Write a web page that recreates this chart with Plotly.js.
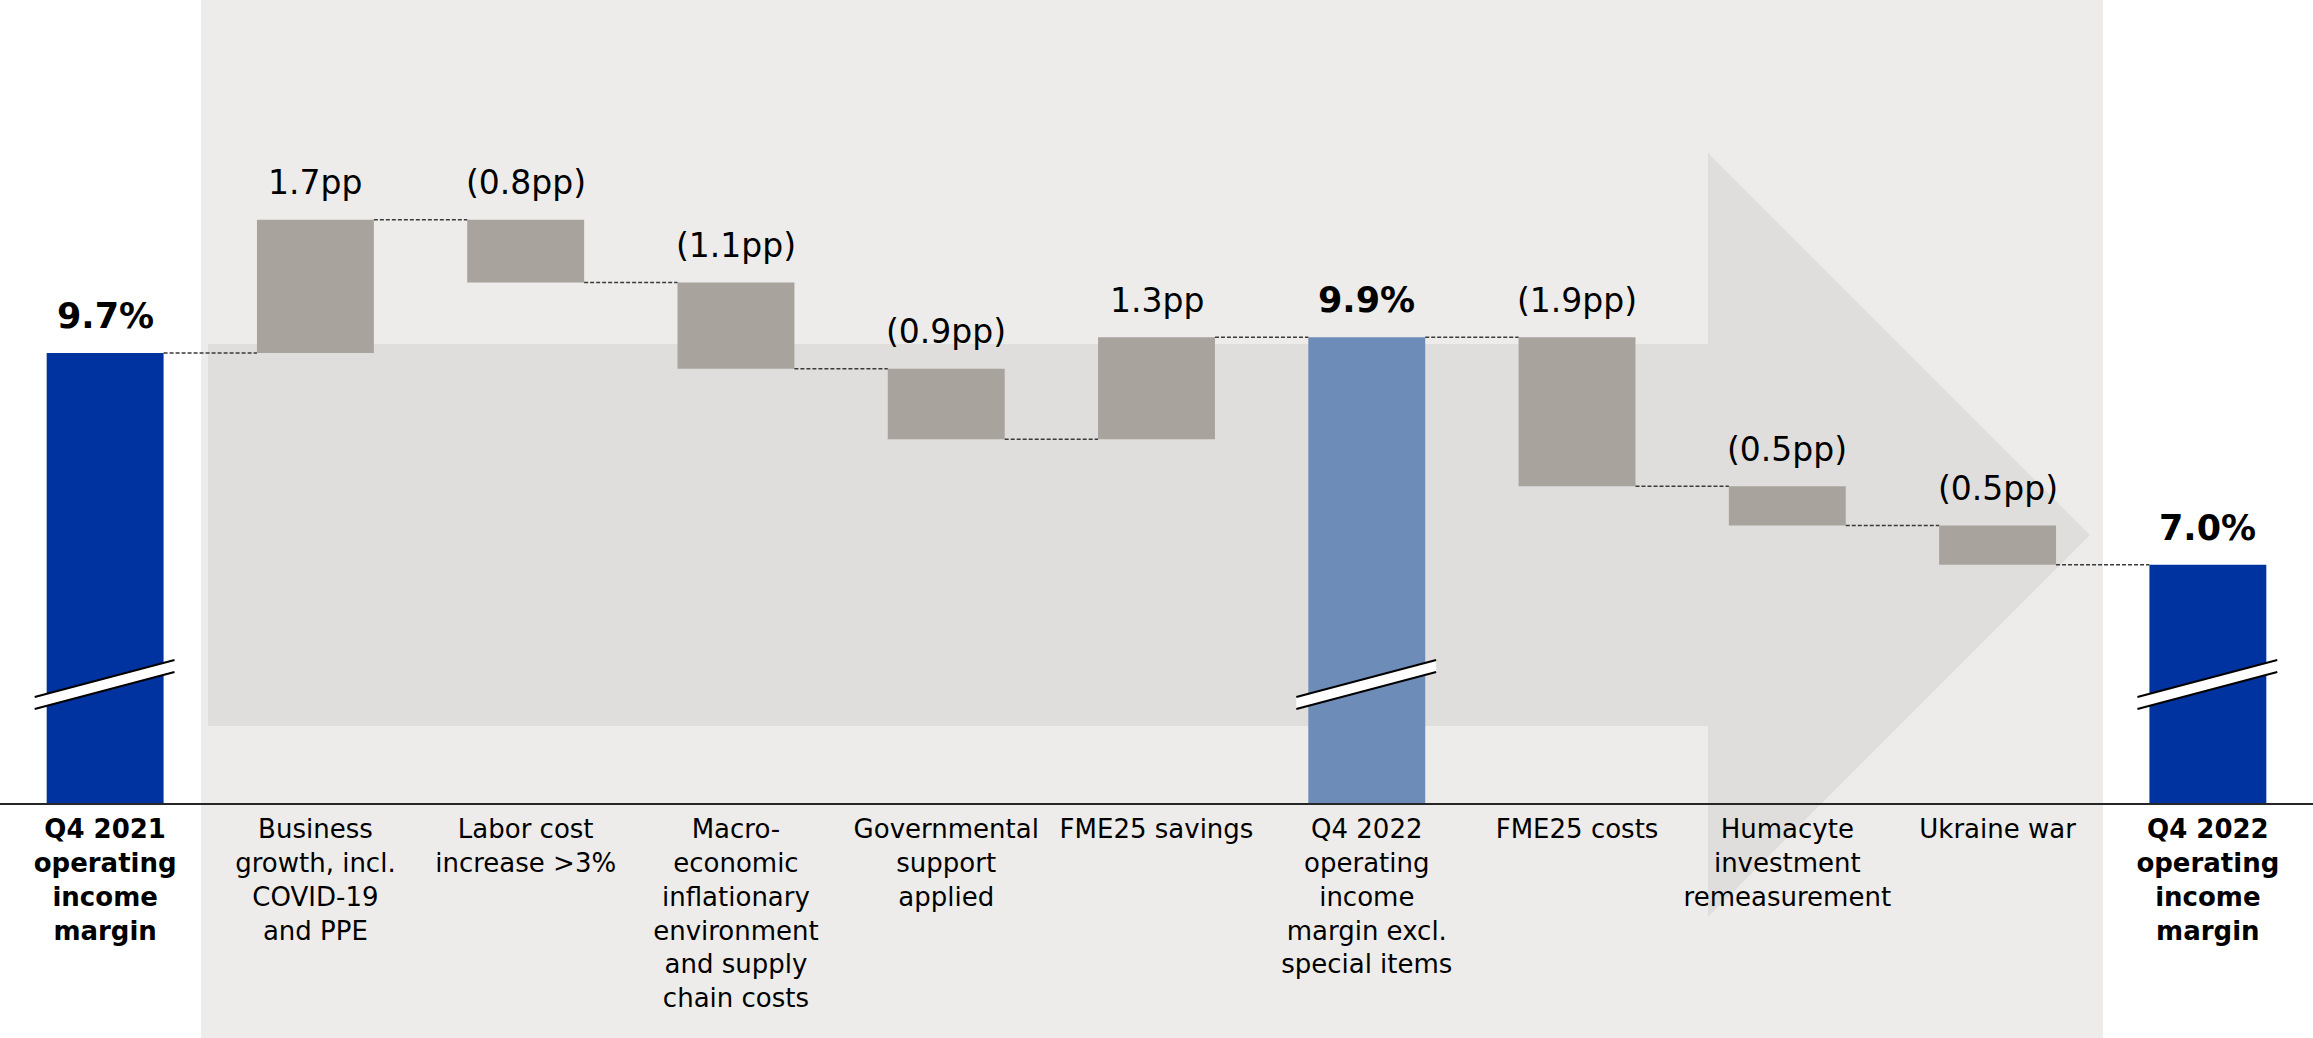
<!DOCTYPE html>
<html>
<head>
<meta charset="utf-8">
<script src="https://cdn.plot.ly/plotly-3.0.1.min.js"></script>
<style>html,body{margin:0;padding:0;background:#fff;}#chart{width:2313px;height:1038px;}</style>
</head>
<body>
<div id="chart"></div>
<script>
// ---- Data ----
const categories = [
  "<b>Q4 2021<br>operating<br>income<br>margin</b>",
  "Business<br>growth, incl.<br>COVID-19<br>and PPE",
  "Labor cost<br>increase &gt;3%",
  "Macro-<br>economic<br>inflationary<br>environment<br>and supply<br>chain costs",
  "Governmental<br>support<br>applied",
  "FME25 savings",
  "Q4 2022<br>operating<br>income<br>margin excl.<br>special items",
  "FME25 costs",
  "Humacyte<br>investment<br>remeasurement",
  "Ukraine war",
  "<b>Q4 2022<br>operating<br>income<br>margin</b>"
];
const measures = ["total","relative","relative","relative","relative","relative","total","relative","relative","relative","total"];
const values = [9.7, 1.7, -0.8, -1.1, -0.9, 1.3, 9.9, -1.9, -0.5, -0.5, 7.0];
const valueLabels = ["9.7%","1.7pp","(0.8pp)","(1.1pp)","(0.9pp)","1.3pp","9.9%","(1.9pp)","(0.5pp)","(0.5pp)","7.0%"];
const barColors = ["#0033a0","#a8a39d","#a8a39d","#a8a39d","#a8a39d","#a8a39d","#6d8cb8","#a8a39d","#a8a39d","#a8a39d","#0033a0"];
const breakBars = [0, 6, 10];

// ---- Layout constants ----
const W = 2313, H = 1038, PB = 803;      // plot bottom in px
const BARW = 0.556;
const FONT = "DejaVu Sans, Verdana, sans-serif";
const px = x => x / W;
const py = y => (PB - y) / PB;

// ---- Build waterfall geometry ----
const xs = categories.map((_, i) => i);
const bases = [], ys = [], tops = [], ends = [];
let run = 0;
values.forEach((v, i) => {
  if (measures[i] === "total") { bases.push(0); ys.push(v); run = v; }
  else { bases.push(run); ys.push(v); run += v; }
  tops.push(Math.max(bases[i], bases[i] + ys[i]));
  ends.push(run);
});

const cx = [], cy = [];
for (let i = 0; i < values.length - 1; i++) {
  cx.push(i + BARW / 2, i + 1 - BARW / 2, null);
  cy.push(ends[i], ends[i], null);
}

const traces = [
  {
    type: "bar", x: xs, y: ys, base: bases, width: BARW,
    marker: { color: barColors, line: { width: 0 } },
    hoverinfo: "skip", showlegend: false
  },
  {
    type: "scatter", mode: "lines", x: cx, y: cy,
    line: { color: "#3a3a3a", width: 1.5, dash: "4px,2px" },
    hoverinfo: "skip", showlegend: false, connectgaps: false
  }
];

const annotations = values.map((v, i) => {
  const isTotal = measures[i] === "total";
  return {
    x: i, y: tops[i], xref: "x", yref: "y",
    text: isTotal ? "<b>" + valueLabels[i] + "</b>" : valueLabels[i],
    showarrow: false, yanchor: "middle", yshift: 37,
    font: { family: FONT, size: isTotal ? 35 : 33, color: "#000" }
  };
});

// ---- Decorative shapes ----
const shapes = [
  { type: "rect", xref: "paper", yref: "paper", x0: px(201), x1: px(2103), y0: py(H), y1: py(0),
    fillcolor: "#edecea", line: { width: 0 }, layer: "below" },
  { type: "path", xref: "paper", yref: "paper", layer: "below",
    path: `M${px(208)},${py(344)} L${px(1708)},${py(344)} L${px(1708)},${py(153)} L${px(2090)},${py(535)} L${px(1708)},${py(917)} L${px(1708)},${py(726)} L${px(208)},${py(726)} Z`,
    fillcolor: "#dfdedc", line: { width: 0 } }
];
breakBars.forEach(i => {
  const x0 = i - 0.335, x1 = i + 0.330;
  shapes.push({ type: "path", xref: "x", yref: "paper", layer: "above",
    path: `M${x0},${py(697)} L${x1},${py(660)} L${x1},${py(672)} L${x0},${py(709)} Z`,
    fillcolor: "#ffffff", line: { width: 0 } });
  shapes.push({ type: "line", xref: "x", yref: "paper", layer: "above",
    x0: x0, x1: x1, y0: py(697), y1: py(660), line: { color: "#000", width: 2 } });
  shapes.push({ type: "line", xref: "x", yref: "paper", layer: "above",
    x0: x0, x1: x1, y0: py(709), y1: py(672), line: { color: "#000", width: 2 } });
});

const layout = {
  width: W, height: H, autosize: false,
  margin: { l: 0, r: 0, t: 0, b: H - PB, pad: 0 },
  paper_bgcolor: "#ffffff", plot_bgcolor: "rgba(0,0,0,0)",
  showlegend: false, barmode: "overlay",
  xaxis: {
    range: [-0.5, 10.5], tickmode: "array", tickvals: xs, ticktext: categories,
    tickangle: 0, ticks: "", showgrid: false, zeroline: false,
    showline: true, linecolor: "#262626", linewidth: 2,
    tickfont: { family: FONT, size: 26, color: "#000" },
    ticklabelstandoff: 2, automargin: false, fixedrange: true
  },
  yaxis: { range: [3.96, 14.203], visible: false, fixedrange: true, showgrid: false, zeroline: false },
  shapes: shapes,
  annotations: annotations
};

Plotly.newPlot("chart", traces, layout, { staticPlot: true, displayModeBar: false });
</script>
</body>
</html>
